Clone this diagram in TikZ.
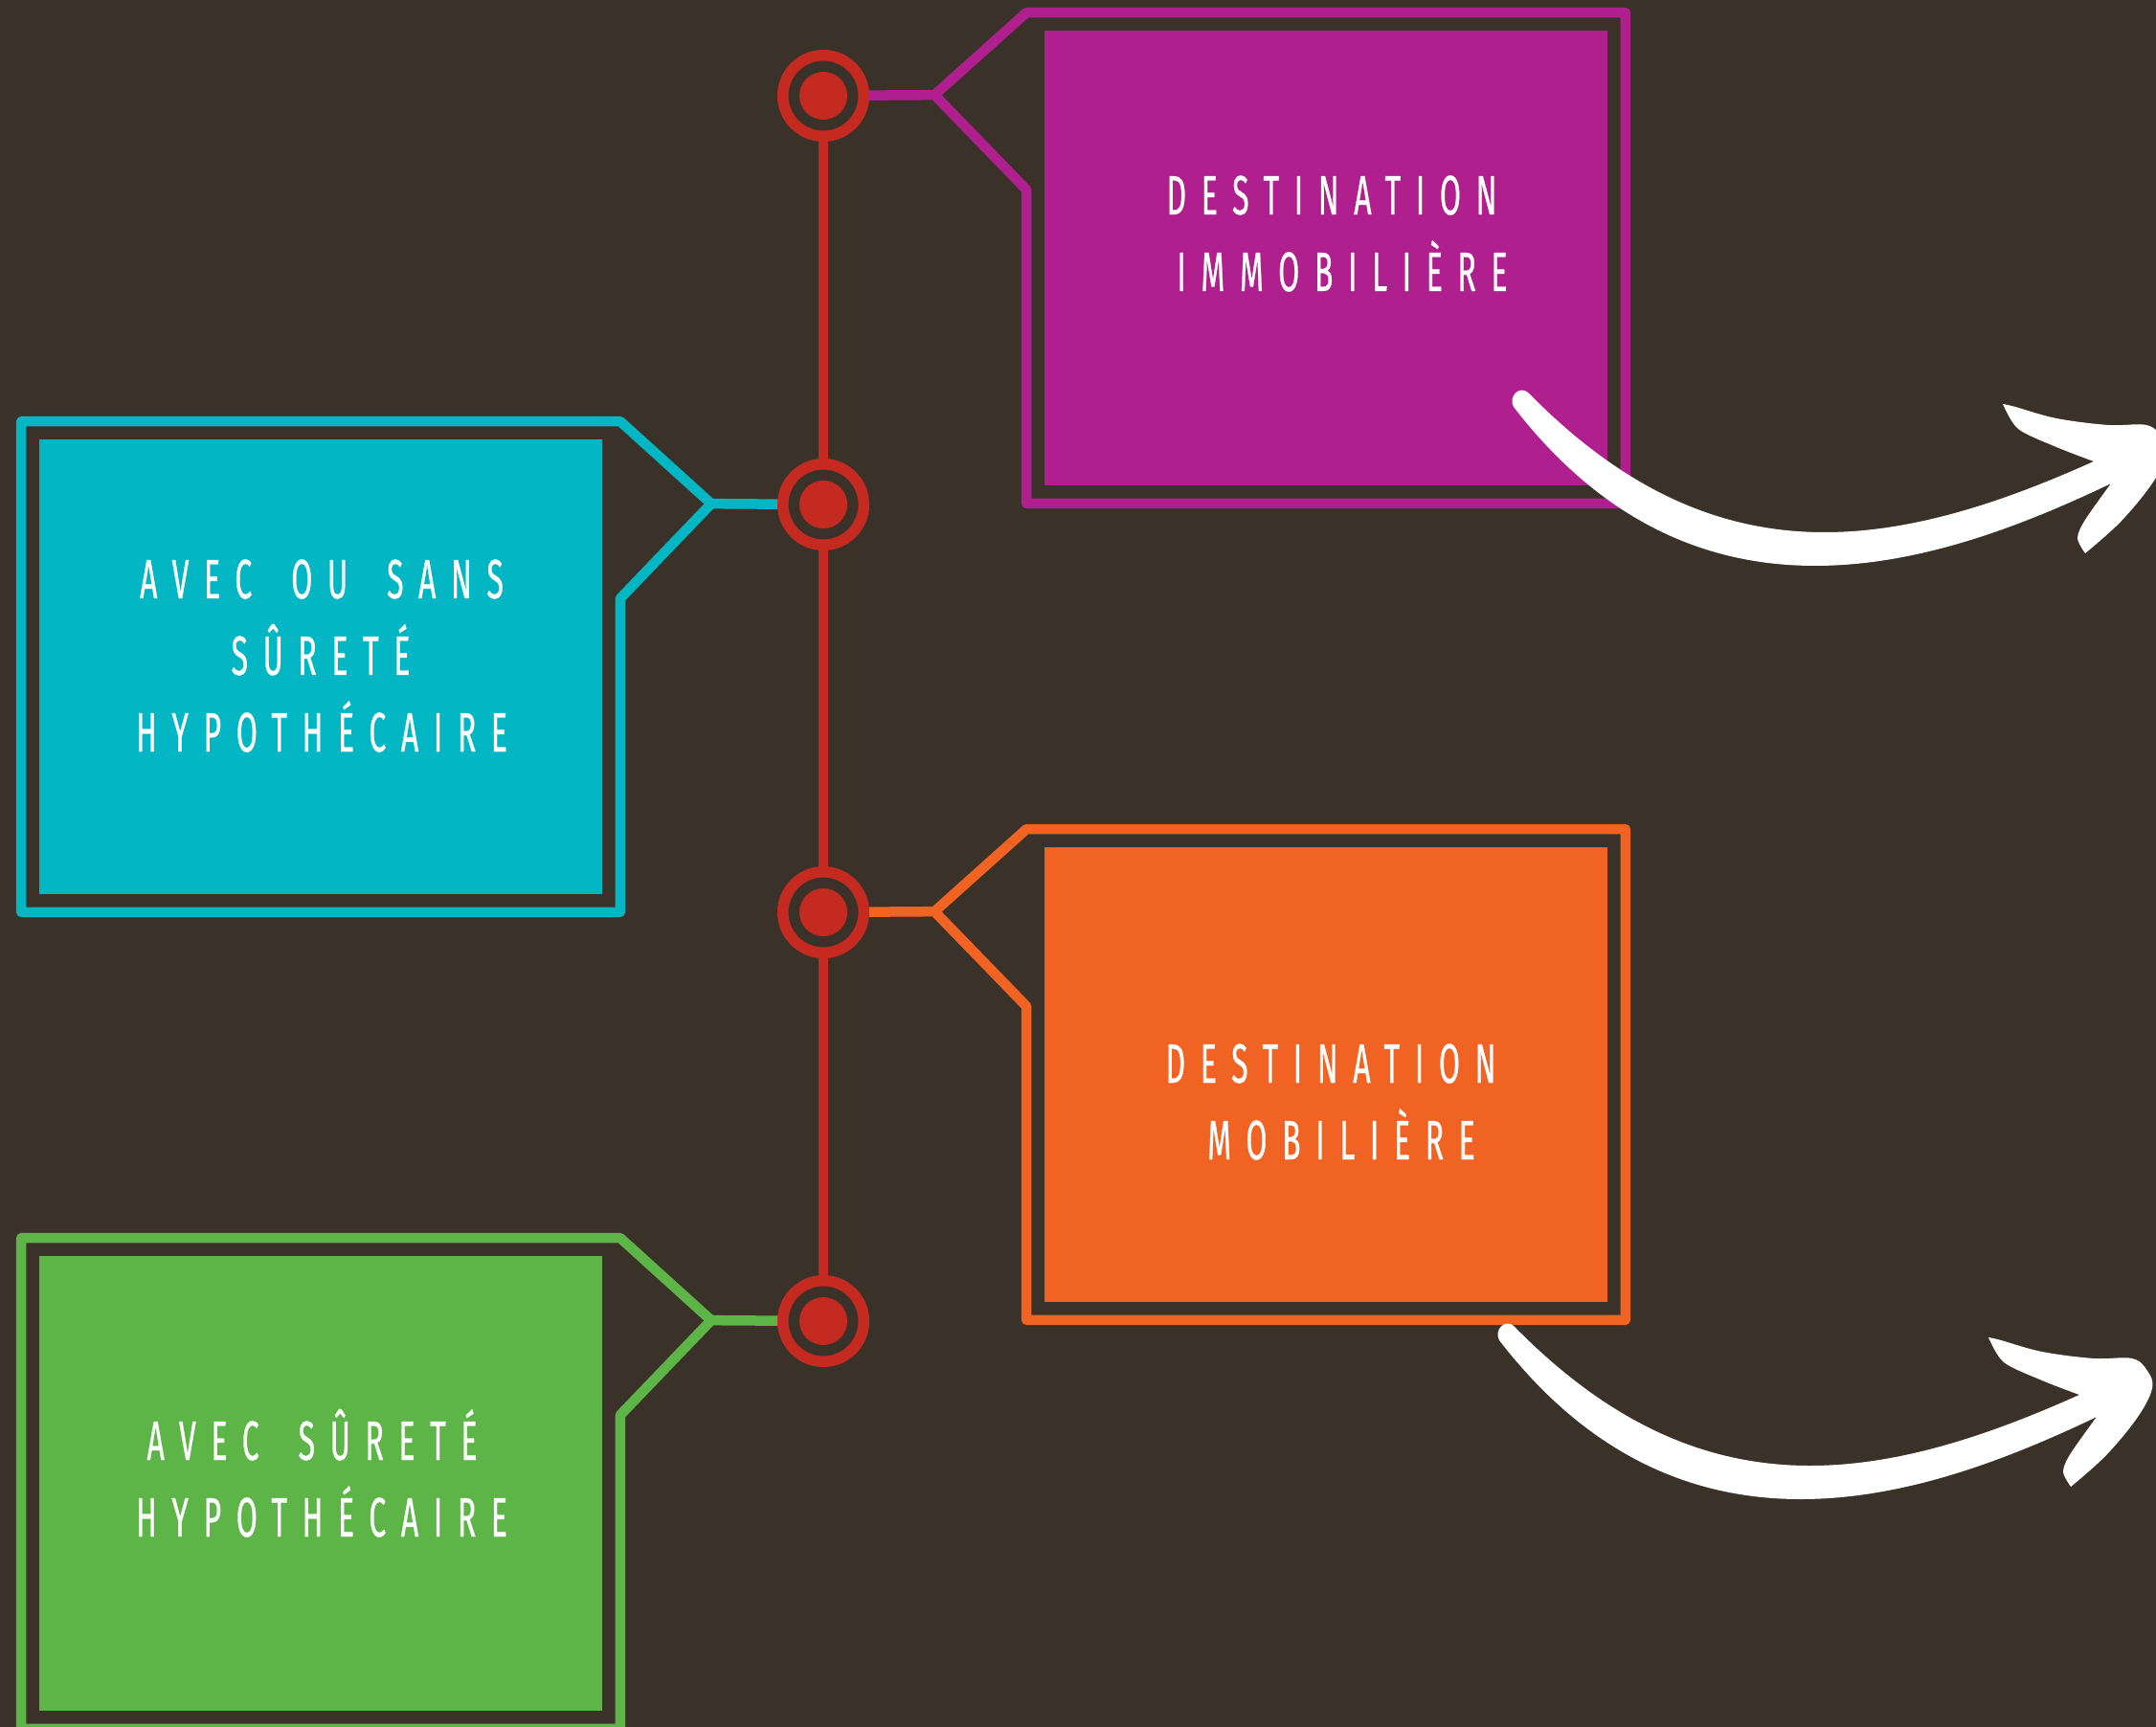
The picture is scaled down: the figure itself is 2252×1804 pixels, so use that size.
\documentclass[tikz,border=0pt]{standalone}
\usepackage{fontspec}
\usetikzlibrary{calc}
\newfontfamily\panelfont{Fira Sans}[FakeStretch=0.55,LetterSpace=27,WordSpace=1.7,FakeBold=0.5]
\definecolor{bg}{HTML}{3A3229}
\definecolor{rail}{HTML}{C42A1F}
\definecolor{immo}{HTML}{B01F8E}
\definecolor{hypo}{HTML}{02B6C4}
\definecolor{mobi}{HTML}{F16323}
\definecolor{vert}{HTML}{5DB447}
\tikzset{
    ring/.style = {circle, draw = rail, fill = bg, line width = 0.115cm, minimum size = 0.845cm, inner sep = 0pt},
    dot/.style = {circle, fill = rail, minimum size = 0.5cm, inner sep = 0pt},
    wire/.style = {line width = 0.105cm, line join = round},
    panel/.style = {rectangle, inner sep = 0pt, minimum width = 5.88cm, minimum height = 4.75cm},
    words/.style = {text = white, anchor = base, inner sep = 0pt, font = \panelfont\fontsize{16.5}{22}\selectfont}
}
\begin{document}
\begin{tikzpicture}[x = 0.01cm, y = -0.01cm]
    \fill [bg] (0, 0) rectangle (2252, 1804);
    \useasboundingbox (0, 0) rectangle (2252, 1804);
    % the rail
    \node [ring] (c1) at (860, 100) {};
    \node [ring] (c2) at (860, 527) {};
    \node [ring] (c3) at (860, 953) {};
    \node [ring] (c4) at (860, 1380) {};
    \node [dot] (d1) at (c1) {};
    \node [dot] (d2) at (c2) {};
    \node [dot] (d3) at (c3) {};
    \node [dot] (d4) at (c4) {};
    \draw [wire, rail] (c1) -- (c2);
    \draw [wire, rail] (c2) -- (c3);
    \draw [wire, rail] (c3) -- (c4);
    % panels
    \node [panel, fill = immo] (immo) at (1385, 269.5) {};
    \node [panel, fill = hypo] (hypo) at (335, 696.5) {};
    \node [panel, fill = mobi] (mobi) at (1385, 1122.5) {};
    \node [panel, fill = vert] (vert) at (335, 1549.5) {};
    \coordinate (j1) at ($(immo.north west) + (-114, 68)$);
    \coordinate (j2) at ($(hypo.north east) + (113, 68)$);
    \coordinate (j3) at ($(mobi.north west) + (-114, 68)$);
    \coordinate (j4) at ($(vert.north east) + (113, 68)$);
    % tag frames, right side
    \foreach \p/\j in {immo/j1, mobi/j3} {
        \draw [wire, \p] (\j) -- ($(\p.north west) + (-18, -18)$) -- ($(\p.north east) + (18, -18)$)
            -- ($(\p.south east) + (18, 18)$) -- ($(\p.south west) + (-18, 18)$)
            -- ($(\p.north west) + (-18, 167)$) -- cycle;
    }
    % tag frames, left side
    \foreach \p/\j in {hypo/j2, vert/j4} {
        \draw [wire, \p] (\j) -- ($(\p.north east) + (18, -18)$) -- ($(\p.north west) + (-18, -18)$)
            -- ($(\p.south west) + (-18, 18)$) -- ($(\p.south east) + (18, 18)$)
            -- ($(\p.north east) + (18, 167)$) -- cycle;
    }
    \draw [wire, immo] (c1) -- (j1);
    \draw [wire, hypo] (c2) -- (j2);
    \draw [wire, mobi] (c3) -- (j3);
    \draw [wire, vert] (c4) -- (j4);
    % texts
    \node [words] (immo1) at (1391, 224) {DESTINATION};
    \node [words] (immo2) at (1402, 304) {IMMOBILIÈRE};
    \node [words] (hypo1) at (336, 625) {AVEC OU SANS};
    \node [words] (hypo2) at (335, 705) {SÛRETÉ};
    \node [words] (hypo3) at (336, 785) {HYPOTHÉCAIRE};
    \node [words] (mobi1) at (1390, 1131) {DESTINATION};
    \node [words] (mobi2) at (1401, 1211) {MOBILIÈRE};
    \node [words] (vert1) at (326, 1525) {AVEC SÛRETÉ};
    \node [words] (vert2) at (336, 1605) {HYPOTHÉCAIRE};
    % hand drawn arrows
    \foreach \dx/\dy in {15/-975, 0/0} {
        \begin{scope}[shift = {(\dx, \dy)}]
            \fill [white] (1566, 1400) .. controls (1560, 1390) and (1572, 1376) .. (1582, 1386)
                .. controls (1771, 1578) and (1954, 1555) .. (2172, 1457)
                -- plot [smooth] coordinates {(2172, 1457) (2133, 1442) (2093, 1423) (2077, 1397)}
                -- plot [smooth, tension = 0.6] coordinates {(2077, 1397) (2090, 1400) (2133, 1412) (2187, 1419) (2227, 1419) (2243, 1432) (2248, 1450) (2233, 1480) (2200, 1520) (2163, 1553)}
                -- plot [smooth] coordinates {(2163, 1553) (2155, 1537) (2163, 1518) (2190, 1480)}
                .. controls (2010, 1566) and (1759, 1650) .. (1566, 1400) -- cycle;
        \end{scope}
    }
\end{tikzpicture}
\end{document}
